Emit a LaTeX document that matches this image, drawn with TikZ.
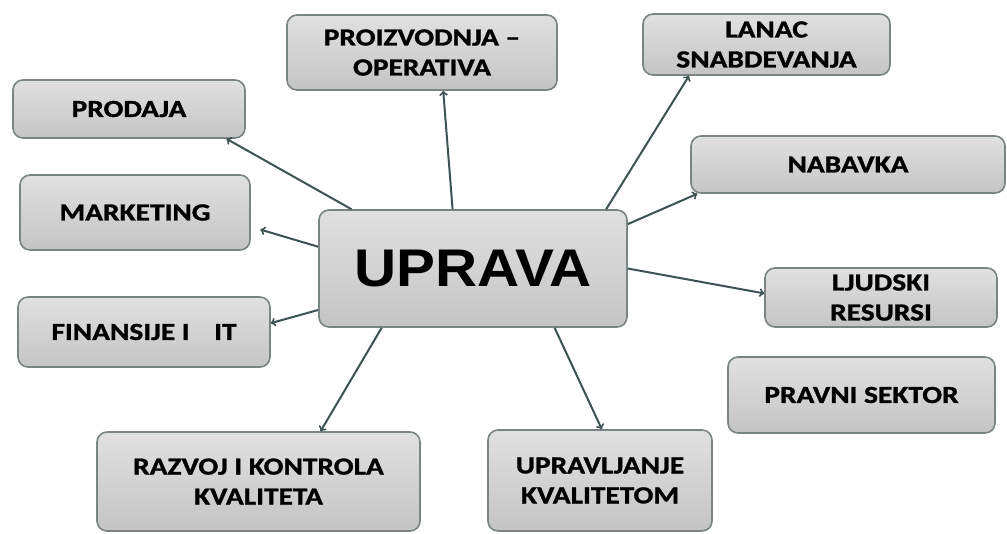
\documentclass[tikz,border=0pt]{standalone}
\usepackage{fontspec}
\usepackage{tikz}
\usetikzlibrary{arrows}
\newfontfamily\boxfont{Carlito}[FakeStretch=1.2, FakeBold=1.2, Ligatures=TeX]
\newfontfamily\headfont{Liberation Sans}[FakeStretch=1.1]
\definecolor{rim}{HTML}{7A8483}
\definecolor{link}{HTML}{3D5252}

\begin{document}
\begin{tikzpicture}[x=1pt, y=-1pt,
  unit/.style={draw=rim, line width=1.6pt, rounded corners=10pt,
    top color=gray!24, bottom color=gray!46, inner sep=0pt, align=center,
    font=\boxfont\bfseries\fontsize{24.5}{30}\selectfont},
  head/.style={unit, font=\headfont\bfseries\fontsize{53}{60}\selectfont},
  link/.style={->, draw=link, line width=2pt}]
\useasboundingbox (0,0) rectangle (1007,533);

\node[head, minimum width=308, minimum height=117] (UP) at (473,268.5) {UPRAVA};

\node[unit, minimum width=270, minimum height=75] (PO) at (422,52.5)  {PROIZVODNJA --\\OPERATIVA};
\node[unit, minimum width=247, minimum height=61] (LS) at (766.5,44.5) {LANAC\\SNABDEVANJA};
\node[unit, minimum width=232, minimum height=58] (PR) at (129,109)   {PRODAJA};
\node[unit, minimum width=230, minimum height=75] (MK) at (135,212.5) {MARKETING};
\node[unit, minimum width=314, minimum height=57] (NB) at (848,164.5) {NABAVKA};
\node[unit, minimum width=252, minimum height=70] (FI) at (144,332)   {FINANSIJE I\quad IT};
\node[unit, minimum width=232, minimum height=59] (LJ) at (881,297.5) {LJUDSKI\\RESURSI};
\node[unit, minimum width=267, minimum height=76] (PS) at (861.5,395) {PRAVNI SEKTOR};
\node[unit, minimum width=323, minimum height=99] (RK) at (258.5,481.5) {RAZVOJ I KONTROLA\\KVALITETA};
\node[unit, minimum width=224, minimum height=101] (UK) at (600,480.5) {UPRAVLJANJE\\KVALITETOM};

\draw[link] (UP.154) -- (PR.343);
\draw[link, shorten >=10pt] (UP.172) -- (MK.353);
\draw[link] (UP.109) -- (PO.299);
\draw[link] (UP.24) -- (LS.202.5);
\draw[link] (UP.16) -- (NB.191);
\draw[link] (UP.0) -- (LJ.178);
\draw[link] (UP.195) -- (FI.4);
\draw[link] (UP.213) -- (RK.39);
\draw[link] (UP.324) -- (UK.88);
\end{tikzpicture}
\end{document}
